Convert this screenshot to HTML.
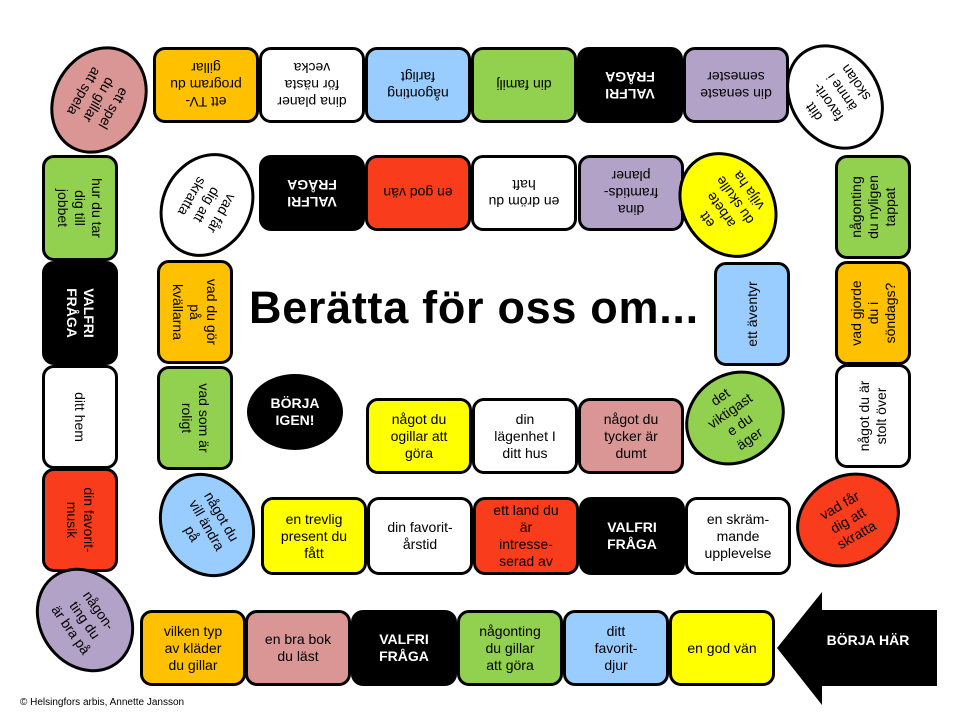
<!DOCTYPE html>
<html><head><meta charset="utf-8"><style>
body{margin:0;width:960px;height:720px;background:#fff;position:relative;overflow:hidden;font-family:"Liberation Sans","DejaVu Sans",sans-serif;}
.b{position:absolute;box-sizing:border-box;border:3px solid #000;border-radius:12px;display:flex;align-items:center;justify-content:center;text-align:center;font-size:14px;line-height:17px;color:#000;}
.o{border-radius:50%;}
.k{background:#000;color:#fff;font-weight:bold;}
.title{position:absolute;left:249px;top:282px;font-weight:bold;font-size:45px;white-space:nowrap;letter-spacing:0.7px;}
</style></head><body>
<div id="c"></div>
<div class="title">Berätta för oss om...</div>
<svg style="position:absolute;left:0;top:0" width="960" height="720"><polygon points="777,648 822,592 822,610 937,610 937,686 822,686 822,705" fill="#000"/><text x="868" y="645" fill="#fff" font-family="Liberation Sans" font-weight="bold" font-size="14" text-anchor="middle">BÖRJA HÄR</text></svg>
<div style="position:absolute;left:20px;top:697px;font-size:10px;">© Helsingfors arbis, Annette Jansson</div>
<script>
const O='#FFC000',W='#fff',B='#99CCFF',G='#92D050',P='#B3A2C7',R='#F83C1C',PK='#D99694',Y='#FFFF00',K='k';
const items=[
[206,85,106,76,180,O,'ett TV-<br>program du<br>gillar'],
[312,85,106,76,180,W,'dina planer<br>för nästa<br>vecka'],
[418,85,106,76,180,B,'någonting<br>farligt'],
[524,85,106,76,180,G,'din familj'],
[630,85,106,76,180,K,'VALFRI<br>FRÅGA'],
[736,85,106,76,180,P,'din senaste<br>semester'],
[873,207,104,76,-90,G,'någonting<br>du nyligen<br>tappat'],
[873,313,104,76,-90,O,'vad gjorde<br>du i<br>söndags?'],
[873,416,104,76,-90,W,'något du är<br>stolt över'],
[80,208,106,76,90,G,'hur du tar<br>dig till<br>jobbet'],
[80,313,104,76,90,K,'VALFRI<br>FRÅGA'],
[80,417,104,76,90,W,'ditt hem'],
[80,520,104,76,90,R,'din favorit-<br>musik'],
[193,648,106,76,0,O,'vilken typ<br>av kläder<br>du gillar'],
[298,648,106,76,0,PK,'en bra bok<br>du läst'],
[404,648,106,76,0,K,'VALFRI<br>FRÅGA'],
[510,648,106,76,0,G,'någonting<br>du gillar<br>att göra'],
[616,648,106,76,0,B,'ditt<br>favorit-<br>djur'],
[722,648,106,76,0,Y,'en god vän'],
[312,193,106,76,180,K,'VALFRI<br>FRÅGA'],
[418,193,106,76,180,R,'en god vän'],
[524,193,106,76,180,W,'en dröm du<br>haft'],
[631,193,106,76,180,P,'dina<br>framtids-<br>planer'],
[195,312,104,76,90,O,'vad du gör<br>på<br>kvällarna'],
[195,418,104,76,90,G,'vad som är<br>roligt'],
[752,314,104,76,-90,B,'ett äventyr'],
[419,436,106,76,0,Y,'något du<br>ogillar att<br>göra'],
[525,436,106,76,0,W,'din<br>lägenhet I<br>ditt hus'],
[631,436,106,76,0,PK,'något du<br>tycker är<br>dumt'],
[314,536,106,78,0,Y,'en trevlig<br>present du<br>fått'],
[420,536,106,78,0,W,'din favorit-<br>årstid'],
[526,536,106,78,0,R,'ett land du<br>är<br>intresse-<br>serad av'],
[632,536,106,78,0,K,'VALFRI<br>FRÅGA'],
[738,536,106,78,0,W,'en skräm-<br>mande<br>upplevelse'],
];
const ovals=[
[99,100,112,92,120,PK,'ett spel<br>du gillar<br>att spela'],
[207,205,108,90,120,W,'vad får<br>dig att<br>skratta'],
[835,97,112,90,235,W,'ditt<br>favorit-<br>ämne i<br>skolan'],
[728,205,112,92,235,Y,'ett<br>arbete<br>du skulle<br>vilja ha'],
[848,520,108,90,-30,R,'vad får<br>dig att<br>skratta'],
[735,418,104,90,-35,G,'det<br>viktigast<br>e du<br>äger'],
[207,525,108,92,60,B,'något du<br>vill ändra<br>på'],
[85,620,110,92,55,P,'någon-<br>ting du<br>är bra på'],
[295,412,96,76,0,K,'BÖRJA<br>IGEN!'],
];
let h='';
function add(a,oval){const [cx,cy,w,hh,r,c,t]=a;const k=c==='k';
h+=`<div class="b${oval?' o':''}${k?' k':''}" style="left:${cx-w/2}px;top:${cy-hh/2}px;width:${w}px;height:${hh}px;${k?'':'background:'+c+';'}transform:rotate(${r}deg)">${t}</div>`;}
items.forEach(a=>add(a,false));ovals.forEach(a=>add(a,true));
document.getElementById('c').innerHTML=h;
</script>
</body></html>
